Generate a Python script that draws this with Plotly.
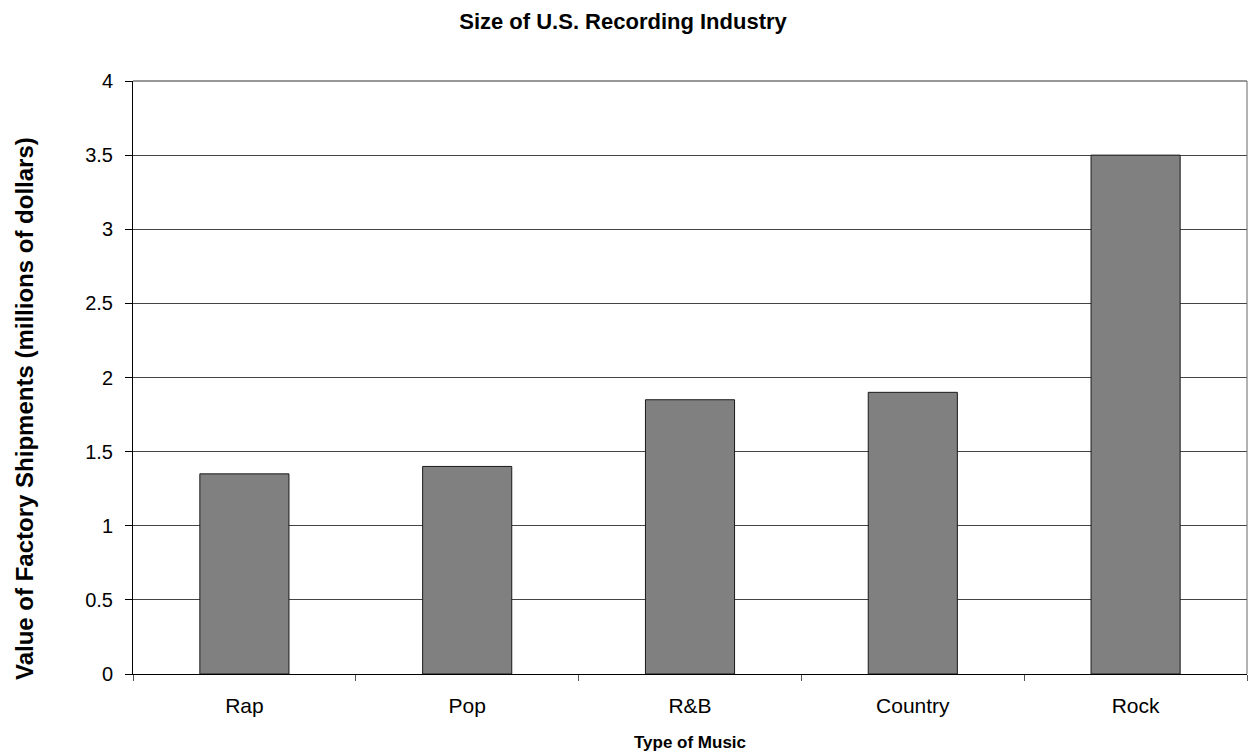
import plotly.graph_objects as go

genres = ["Rap", "Pop", "R&B", "Country", "Rock"]
shipments = [1.35, 1.40, 1.85, 1.90, 3.50]
y_ticks = [0, 0.5, 1, 1.5, 2, 2.5, 3, 3.5, 4]
y_tick_text = ["0", "0.5", "1", "1.5", "2", "2.5", "3", "3.5", "4"]

FONT = "Arial, Liberation Sans, sans-serif"

fig = go.Figure(
    go.Bar(
        x=genres,
        y=shipments,
        width=0.4,
        marker=dict(color="#808080", line=dict(color="#1a1a1a", width=1)),
    )
)

fig.update_layout(
    width=1249,
    height=753,
    paper_bgcolor="white",
    plot_bgcolor="white",
    margin=dict(l=133, r=2, t=81, b=79),
    showlegend=False,
    font=dict(family=FONT, color="black"),
    title=dict(
        text="<b>Size of U.S. Recording Industry</b>",
        x=623 / 1249,
        xanchor="center",
        y=1 - 21 / 753,
        yanchor="middle",
        font=dict(size=22),
    ),
)

fig.update_xaxes(
    type="category",
    tickson="boundaries",
    ticks="outside",
    ticklen=6,
    tickcolor="#555555",
    showgrid=False,
    showline=True,
    linecolor="black",
    linewidth=1,
    tickfont=dict(size=21),
    ticklabelstandoff=13,
    title=dict(text="<b>Type of Music</b>", font=dict(size=17), standoff=19),
)

fig.update_yaxes(
    range=[0, 4],
    tickvals=y_ticks,
    ticktext=y_tick_text,
    ticks="outside",
    ticklen=7,
    tickcolor="black",
    showgrid=True,
    gridcolor="#444444",
    gridwidth=1,
    showline=True,
    linecolor="black",
    linewidth=1,
    zeroline=False,
    tickfont=dict(size=20),
    ticklabelstandoff=8,
)

# y-axis title placed as a rotated annotation
fig.add_annotation(
    text="<b>Value of Factory Shipments (millions of dollars)</b>",
    textangle=-90,
    xref="paper", yref="paper",
    x=-(133 - 24) / (1249 - 135),
    y=(674 - 409) / (674 - 81),
    xanchor="center", yanchor="middle",
    showarrow=False,
    font=dict(size=24, family=FONT),
)

# top and right borders of the plot area
fig.add_shape(type="line", xref="paper", yref="paper", x0=0, x1=1, y0=1, y1=1,
              line=dict(color="#333333", width=1))
fig.add_shape(type="line", xref="paper", yref="paper", x0=1, x1=1, y0=0, y1=1,
              line=dict(color="#666666", width=1))

fig.write_html("out.html")
